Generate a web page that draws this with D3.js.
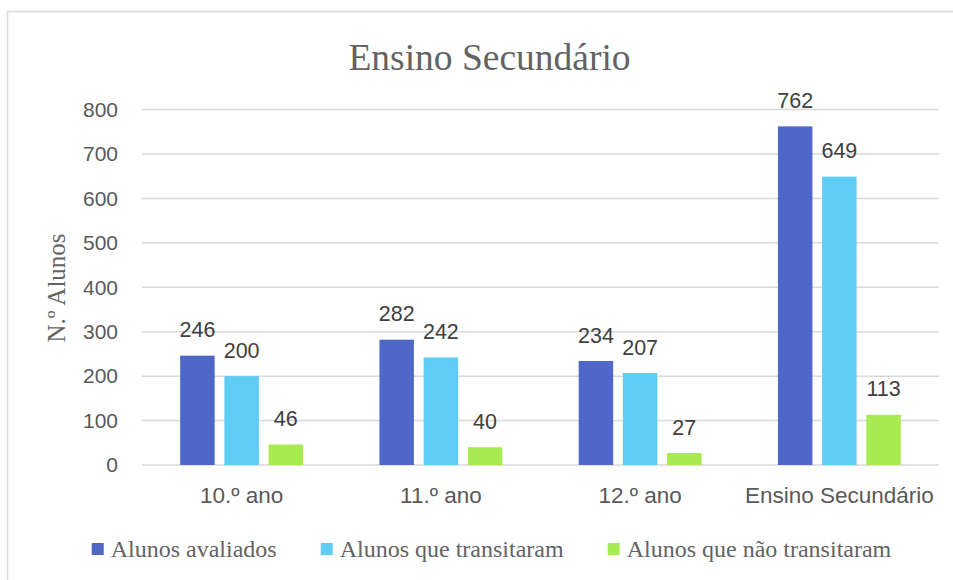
<!DOCTYPE html>
<html>
<head>
<meta charset="utf-8">
<script src="https://cdn.jsdelivr.net/npm/d3@7"></script>
<style>
  body { margin: 0; background: #fff; }
</style>
</head>
<body>
<div id="chart"></div>
<script>
var WIDTH = 953, HEIGHT = 580;

// data
var categories = ["10.º ano", "11.º ano", "12.º ano", "Ensino Secundário"];
var seriesNames = ["Alunos avaliados", "Alunos que transitaram", "Alunos que não transitaram"];
var avaliados = [246, 282, 234, 762];
var transitaram = [200, 242, 207, 649];
var naoTransitaram = [46, 40, 27, 113];
var yTicks = [0, 100, 200, 300, 400, 500, 600, 700, 800];
var colors = ["#4E67C8", "#5ECCF3", "#A7EA52"];

var seriesValues = [avaliados, transitaram, naoTransitaram];

var SVG = d3.select("#chart").append("svg")
    .attr("width", WIDTH)
    .attr("height", HEIGHT);

// frame of the chart area (runs off the right and bottom edges)
SVG.append("rect")
    .attr("x", 7.5).attr("y", 11.5)
    .attr("width", 980).attr("height", 620)
    .attr("fill", "#fff")
    .attr("stroke", "#d9d9d9").attr("stroke-width", 1.5);

var x = d3.scaleBand().domain(categories).range([142, 939]).padding(0);
var xs = d3.scaleBand().domain(d3.range(3)).range([0, x.bandwidth()])
    .paddingInner(0.22).paddingOuter(0.864);
var y = d3.scaleLinear().domain([0, 800]).range([465, 109.5]);

var SANS = "'Liberation Sans', Arial, sans-serif";
var SERIF = "'Liberation Serif', 'Times New Roman', serif";

// title
SVG.append("text")
    .attr("x", 489.5).attr("y", 70)
    .attr("text-anchor", "middle")
    .attr("font-family", SERIF).attr("font-size", 37.5)
    .attr("fill", "#636363")
    .text("Ensino Secundário");

// gridlines + y tick labels
var LAYER_GRID = SVG.append("g");
LAYER_GRID.selectAll("line").data(yTicks).join("line")
    .attr("x1", 142).attr("x2", 939)
    .attr("y1", function(d) { return y(d); })
    .attr("y2", function(d) { return y(d); })
    .attr("stroke", "#d9d9d9").attr("stroke-width", 1.5);
LAYER_GRID.selectAll("text").data(yTicks).join("text")
    .attr("x", 118)
    .attr("y", function(d) { return y(d); })
    .attr("dy", "0.35em")
    .attr("text-anchor", "end")
    .attr("font-family", SANS).attr("font-size", 21)
    .attr("fill", "#595959")
    .text(function(d) { return d; });

// axis title
SVG.append("text")
    .attr("transform", "translate(65,288) rotate(-90)")
    .attr("text-anchor", "middle")
    .attr("font-family", SERIF).attr("font-size", 25)
    .attr("fill", "#636363")
    .text("N.º Alunos");

// bars
var LAYER_BARS = SVG.append("g");
var groups = LAYER_BARS.selectAll("g").data(categories).join("g")
    .attr("transform", function(d) { return "translate(" + x(d) + ",0)"; });

groups.each(function(cat, ci) {
    var g = d3.select(this);
    var vals = seriesValues.map(function(s) { return s[ci]; });
    g.selectAll("rect").data(vals).join("rect")
        .attr("x", function(d, i) { return xs(i); })
        .attr("width", xs.bandwidth())
        .attr("y", function(d) { return y(d); })
        .attr("height", function(d) { return y(0) - y(d); })
        .attr("fill", function(d, i) { return colors[i]; });
    g.selectAll("text").data(vals).join("text")
        .attr("x", function(d, i) { return xs(i) + xs.bandwidth() / 2; })
        .attr("y", function(d) { return y(d) - 18.5; })
        .attr("text-anchor", "middle")
        .attr("font-family", SANS).attr("font-size", 21.5)
        .attr("fill", "#404040")
        .text(function(d) { return d; });
});

// category labels
SVG.append("g").selectAll("text").data(categories).join("text")
    .attr("x", function(d) { return x(d) + x.bandwidth() / 2; })
    .attr("y", 503)
    .attr("text-anchor", "middle")
    .attr("font-family", SANS).attr("font-size", 22.5)
    .attr("fill", "#595959")
    .text(function(d) { return d; });

// legend
var LEGEND = SVG.append("g");
var cursor = 0;
seriesNames.forEach(function(name, i) {
    var item = LEGEND.append("g").attr("transform", "translate(" + cursor + ",0)");
    item.append("rect")
        .attr("x", 0).attr("y", 543)
        .attr("width", 12).attr("height", 12)
        .attr("fill", colors[i]);
    var t = item.append("text")
        .attr("x", 19).attr("y", 557)
        .attr("font-family", SERIF).attr("font-size", 24)
        .attr("fill", "#636363")
        .text(name);
    cursor += 19 + t.node().getComputedTextLength() + 44;
});
var legendW = cursor - 44;
LEGEND.attr("transform", "translate(" + (491.5 - legendW / 2) + ",0)");
</script>
</body>
</html>
